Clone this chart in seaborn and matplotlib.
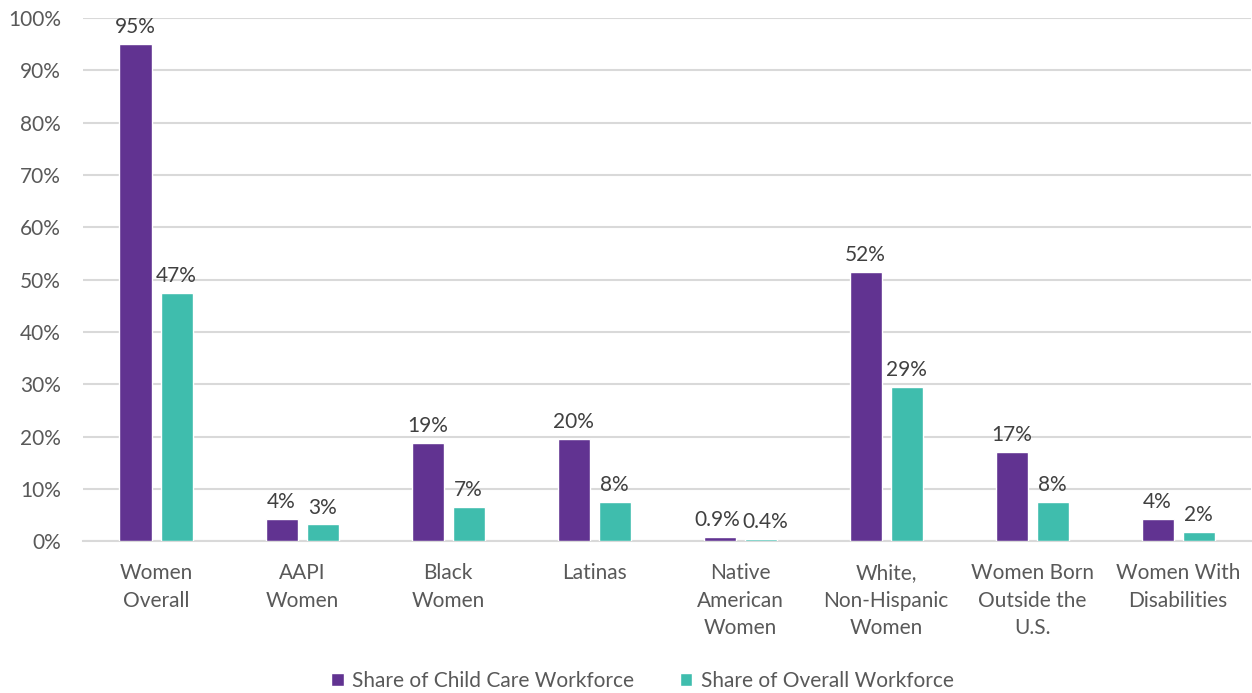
import pandas as pd
import matplotlib.pyplot as plt
import seaborn as sns

# Chart data
categories = ["Women\nOverall", "AAPI\nWomen", "Black\nWomen", "Latinas",
              "Native\nAmerican\nWomen", "White,\nNon-Hispanic\nWomen",
              "Women Born\nOutside the\nU.S.", "Women With\nDisabilities"]
child_care = [95.0, 4.2, 18.8, 19.6, 0.9, 51.5, 17.0, 4.2]
overall = [47.5, 3.2, 6.5, 7.5, 0.4, 29.4, 7.5, 1.7]
child_care_labels = ["95%", "4%", "19%", "20%", "0.9%", "52%", "17%", "4%"]
overall_labels = ["47%", "3%", "7%", "8%", "0.4%", "29%", "8%", "2%"]
series = ["Share of Child Care Workforce", "Share of Overall Workforce"]

df = pd.DataFrame({
    "category": categories * 2,
    "value": child_care + overall,
    "series": [series[0]] * len(categories) + [series[1]] * len(categories),
})

sns.set_theme(style="white")
plt.rcParams['font.family'] = ['Lato', 'DejaVu Sans']
text_color = "#595959"
grid_color = "#D9D9D9"
fs = 15

fig = plt.figure(figsize=(12.52, 6.93), dpi=100)
ax = fig.add_axes([0.0663, 0.219, 0.933, 0.755])

sns.barplot(data=df, x="category", y="value", hue="series",
            palette=["#613391", "#3FBDAD"], width=0.562, gap=0.22,
            saturation=1, ax=ax, legend=True, zorder=3)

# Data labels
nudge = [-2, 3]  # small labels over Native American Women sit close together
for k, (container, labels) in enumerate(zip(ax.containers,
                                            [child_care_labels, overall_labels])):
    anns = ax.bar_label(container, labels=labels, padding=5, fontsize=fs,
                        color="#404040")
    anns[4].xyann = (nudge[k], 5)

ax.set_ylim(0, 100)
ax.set_xlim(-0.5, len(categories) - 0.5)
ax.set_yticks(range(0, 101, 10))
ax.set_yticklabels([f"{t}%" for t in range(0, 101, 10)])
ax.yaxis.grid(True, color=grid_color, linewidth=1.5)
ax.set_axisbelow(True)
for side in ["left", "right", "top"]:
    ax.spines[side].set_visible(False)
ax.spines["bottom"].set_color(grid_color)
ax.spines["bottom"].set_linewidth(1.5)
ax.tick_params(axis="both", length=0, labelsize=fs, colors=text_color)
ax.tick_params(axis="x", pad=16)
ax.tick_params(axis="y", pad=16)
for lbl in ax.get_xticklabels():
    lbl.set_linespacing(1.45)
ax.set_xlabel("")
ax.set_ylabel("")

handles, labels = ax.get_legend_handles_labels()
ax.get_legend().remove()
leg = fig.legend(handles, labels, loc="center", bbox_to_anchor=(0.513, 0.017),
                 ncol=2, frameon=False, fontsize=fs, handlelength=0.6,
                 handleheight=0.6, handletextpad=0.4, columnspacing=2.2)
for t in leg.get_texts():
    t.set_color(text_color)

fig.savefig("out.png", dpi=100)
